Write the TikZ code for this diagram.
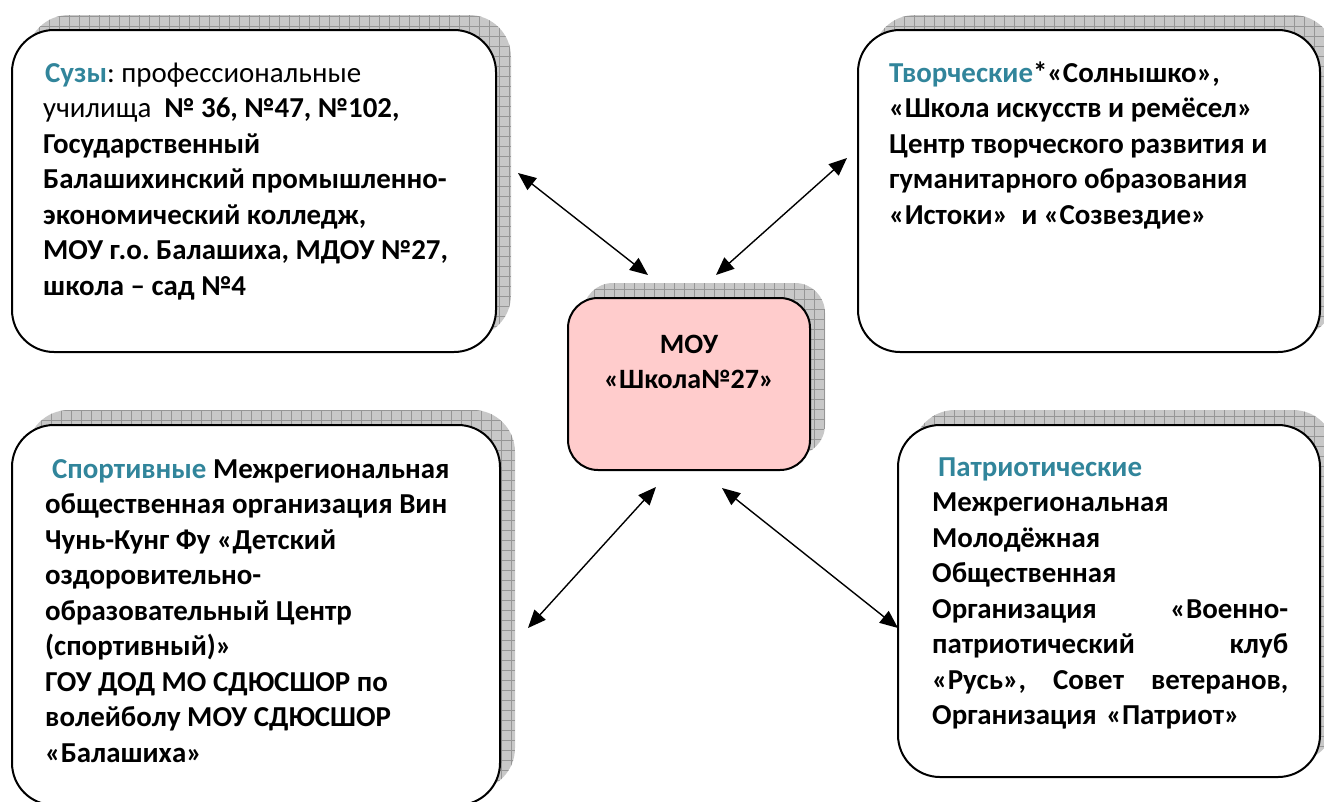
\documentclass[tikz,border=0pt]{standalone}
\usepackage{fontspec}
\setmainfont{Carlito}
\usetikzlibrary{arrows.meta,shadows}
\frenchspacing

\definecolor{sectcol}{RGB}{49,133,155}
\definecolor{schoolpink}{RGB}{255,204,204}
\definecolor{shadegray}{RGB}{200,200,200}
\definecolor{gridgray}{RGB}{150,150,150}

\tikzset{
  orgbox/.style={
    draw,
    line width=2pt,
    rounded corners=42pt,
    fill=white,
    general shadow={
      shadow xshift=15pt,
      shadow yshift=15pt,
      fill=shadegray,
      path picture={\draw[gridgray, line width=0.6pt, step=10pt]
        (path picture bounding box.south west) grid (path picture bounding box.north east);},
    },
  },
  orgtext/.style={
    anchor=north west,
    inner sep=0pt,
    align=left,
    font=\fontsize{28.9}{35.5}\selectfont\bfseries,
  },
  link/.style={
    {Triangle[length=18pt,width=15pt]}-{Triangle[length=18pt,width=15pt]},
    line width=1.4pt,
  },
}

\begin{document}
\begin{tikzpicture}[x=1pt,y=-1pt]
    \useasboundingbox (0,0) rectangle (1324,801);
    \clip (0,0) rectangle (1324,801);

    % boxes
    \node[orgbox, minimum width=484pt, minimum height=322pt] (suz) at (254,191) {};
    \node[orgbox, minimum width=462pt, minimum height=322pt] (tvor) at (1089,191) {};
    \node[orgbox, minimum width=488pt, minimum height=380pt] (sport) at (256,615) {};
    \node[orgbox, minimum width=422pt, minimum height=352pt] (patr) at (1109,601) {};
    \node[orgbox, rounded corners=30pt, fill=schoolpink, minimum width=242pt, minimum height=172pt] (school) at (689,384) {};

    % texts
    \node[orgtext] (suztext) at (43,60) {\rule{0pt}{22pt}\hspace*{2pt}\textcolor{sectcol}{Сузы}\mdseries: профессиональные\\
      {\mdseries училища}\ \ №~36, №47, №102,\\
      Государственный\\
      Балашихинский промышленно-\\
      экономический колледж,\\
      МОУ г.о. Балашиха, МДОУ №27,\\
      школа – сад №4};
    \node[orgtext] (tvortext) at (889,60) {\rule{0pt}{22pt}\textcolor{sectcol}{Творческие}*«Солнышко»,\\
      «Школа искусств и ремёсел»\\
      Центр творческого развития и\\
      гуманитарного образования\\
      «Истоки»\ \ и «Созвездие»};
    \node[orgtext, anchor=north, align=center, font=\fontsize{28}{35.5}\selectfont\bfseries] (schooltext) at (689,331) {\rule{0pt}{22pt}МОУ\\
      «Школа№27»};
    \node[orgtext] (sporttext) at (45,456) {\rule{0pt}{22pt}\hspace*{7pt}\textcolor{sectcol}{Спортивные} Межрегиональная\\
      общественная организация Вин\\
      Чунь-Кунг Фу «Детский\\
      оздоровительно-\\
      образовательный Центр\\
      (спортивный)»\\
      ГОУ ДОД МО СДЮСШОР по\\
      волейболу МОУ СДЮСШОР\\
      «Балашиха»};
    \node[orgtext, text width=356pt] (patrtext) at (932,454) {\rule{0pt}{22pt}\hspace*{6pt}\textcolor{sectcol}{Патриотические}\\
      Межрегиональная\\
      Молодёжная\\
      Общественная\\
      Организация \hfill «Военно-\\
      патриотический \hfill клуб\\
      «Русь», \hfill Совет \hfill ветеранов,\\
      Организация «Патриот»};

    % arrow ends
    \coordinate (suzend) at (518,173);
    \coordinate (schoolnw) at (648,275);
    \coordinate (tvorend) at (847,158);
    \coordinate (schoolne) at (716,275);
    \coordinate (schoolsw) at (656,487);
    \coordinate (sportend) at (528,628);
    \coordinate (schoolse) at (722,488);
    \coordinate (patrend) at (898,628);

    \draw[link] (suzend) -- (schoolnw);
    \draw[link] (tvorend) -- (schoolne);
    \draw[link] (schoolsw) -- (sportend);
    \draw[link] (schoolse) -- (patrend);

\end{tikzpicture}
\end{document}
